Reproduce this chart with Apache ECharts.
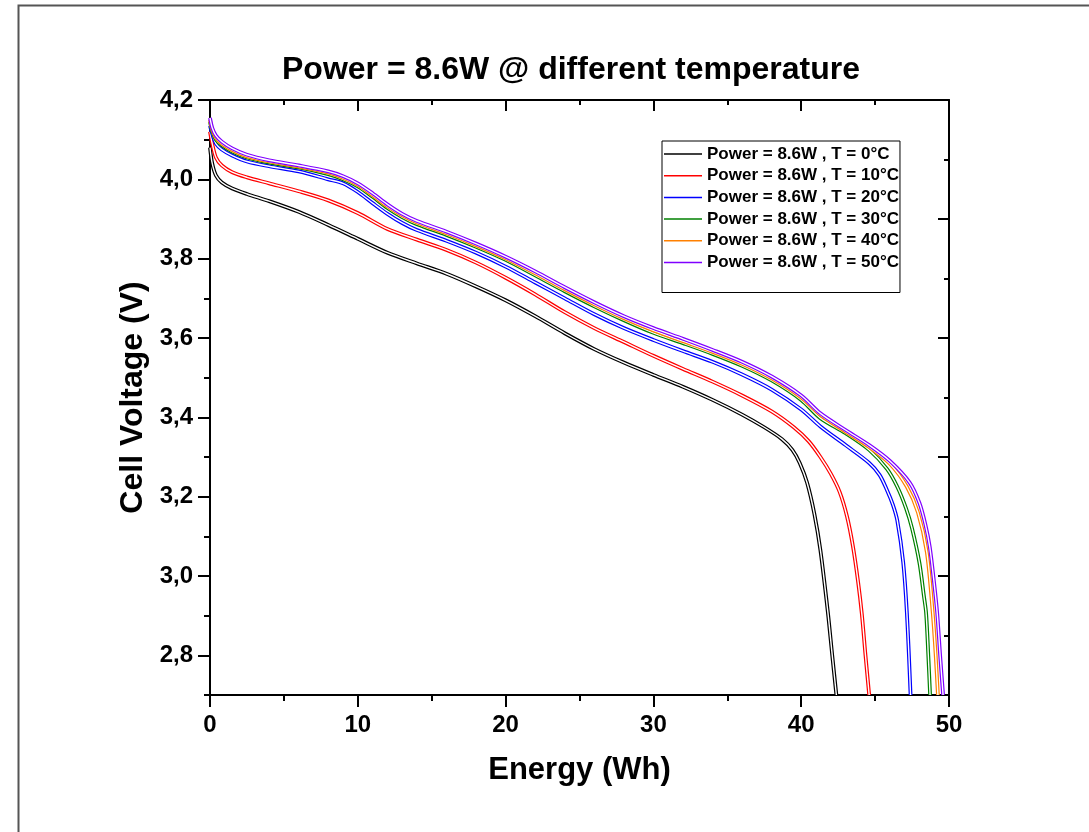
<!DOCTYPE html>
<html>
<head>
<meta charset="utf-8">
<script src="https://cdn.jsdelivr.net/npm/echarts@6/dist/echarts.min.js"></script>
<style>html,body{margin:0;padding:0;background:#fff}#c{width:1089px;height:832px}</style>
</head>
<body>
<div id="c"></div>
<script>
const seriesNames = ['Power = 8.6W , T = 0°C','Power = 8.6W , T = 10°C','Power = 8.6W , T = 20°C','Power = 8.6W , T = 30°C','Power = 8.6W , T = 40°C','Power = 8.6W , T = 50°C'];
const seriesColors = ['#000000','#ff0000','#0000ff','#008000','#ff8000','#8000ff'];
const xTicks = [0,10,20,30,40,50];
const yTickLabels = [2.8,3.0,3.2,3.4,3.6,3.8,4.0,4.2];
const yMinorTicks = [2.7,2.9,3.1,3.3,3.5,3.7,3.9,4.1];

const t0 = [[0,4.08],[0.15,4.04],[0.4,4.01],[0.8,3.992],[1.5,3.977],[2.5,3.963],[4,3.945],[6,3.918],[8,3.885],[10,3.85],[12,3.815],[14,3.788],[16,3.762],[18,3.73],[20,3.695],[22,3.655],[24,3.612],[26,3.572],[28,3.538],[30,3.507],[32,3.477],[34,3.444],[36,3.407],[37.5,3.375],[38.7,3.345],[39.4,3.318],[39.9,3.285],[40.4,3.235],[40.9,3.155],[41.3,3.065],[41.8,2.91],[42.1,2.80],[42.38,2.70]];
const t10 = [[0,4.12],[0.15,4.09],[0.4,4.055],[0.8,4.035],[1.5,4.018],[2.5,4.005],[4,3.99],[6,3.97],[8,3.947],[10,3.915],[12,3.875],[14,3.848],[16,3.822],[18,3.79],[20,3.752],[22,3.71],[24,3.665],[26,3.625],[28,3.59],[30,3.555],[32,3.522],[34,3.49],[36,3.455],[38,3.415],[39.5,3.375],[40.5,3.34],[41.3,3.30],[42,3.258],[42.6,3.212],[43.1,3.15],[43.5,3.075],[43.85,2.985],[44.1,2.905],[44.35,2.80],[44.6,2.70]];
const t20 = [[0,4.135],[0.15,4.115],[0.4,4.09],[0.8,4.075],[1.5,4.06],[2.5,4.045],[4,4.033],[6,4.02],[8,4.0],[9,3.99],[10,3.968],[11,3.94],[12,3.913],[13,3.89],[14,3.872],[16,3.845],[18,3.815],[20,3.78],[22,3.74],[24,3.70],[26,3.66],[28,3.625],[30,3.595],[32,3.567],[34,3.54],[36,3.508],[38,3.47],[40,3.42],[41.3,3.377],[43,3.33],[44.6,3.285],[45.3,3.255],[45.8,3.217],[46.2,3.18],[46.5,3.14],[46.9,3.035],[47.15,2.907],[47.4,2.70]];
const t30 = [[0,4.145],[0.15,4.122],[0.4,4.1],[0.8,4.086],[1.5,4.07],[2.5,4.055],[4,4.042],[6,4.03],[8,4.013],[9,4.0],[10,3.982],[11,3.956],[12,3.928],[13,3.905],[14,3.887],[16,3.86],[18,3.83],[20,3.797],[22,3.758],[24,3.718],[26,3.68],[28,3.645],[30,3.613],[32,3.587],[34,3.56],[36,3.53],[38,3.493],[40,3.444],[41.3,3.398],[43,3.36],[44.6,3.318],[45.8,3.27],[46.5,3.225],[47.1,3.17],[47.5,3.12],[48.0,3.033],[48.3,2.95],[48.45,2.907],[48.6,2.80],[48.72,2.70]];
const t40 = [[0,4.15],[0.15,4.126],[0.4,4.105],[0.8,4.09],[1.5,4.074],[2.5,4.058],[4,4.045],[6,4.032],[8,4.017],[9,4.004],[10,3.986],[11,3.96],[12,3.932],[13,3.909],[14,3.891],[16,3.864],[18,3.834],[20,3.801],[22,3.763],[24,3.723],[26,3.685],[28,3.65],[30,3.619],[32,3.592],[34,3.565],[36,3.535],[38,3.498],[40,3.45],[41.3,3.406],[43,3.364],[44.6,3.325],[46,3.283],[47.15,3.225],[47.9,3.16],[48.5,3.06],[48.9,2.907],[49.1,2.80],[49.25,2.70]];
const t50 = [[0,4.155],[0.15,4.13],[0.4,4.11],[0.8,4.095],[1.5,4.078],[2.5,4.062],[4,4.048],[6,4.035],[8,4.02],[9,4.008],[10,3.99],[11,3.965],[12,3.937],[13,3.913],[14,3.895],[16,3.868],[18,3.838],[20,3.805],[22,3.768],[24,3.728],[26,3.69],[28,3.655],[30,3.625],[32,3.598],[34,3.57],[36,3.54],[38,3.503],[40,3.455],[41.3,3.41],[43,3.368],[44.6,3.33],[46,3.29],[47.35,3.235],[48,3.184],[48.4,3.13],[48.7,3.073],[49.0,2.98],[49.2,2.907],[49.4,2.80],[49.6,2.70]];
const seriesData = [t0,t10,t20,t30,t40,t50];

const FONT = 'Liberation Sans, Arial, sans-serif';
const series = [];
seriesData.forEach((d, i) => {
  series.push({
    name: seriesNames[i], type: 'line', data: d, showSymbol: false, symbol: 'none',
    smooth: 0.3, clip: true,
    color: seriesColors[i],
    lineStyle: { color: seriesColors[i], width: 3.8 },
    xAxisIndex: 0, yAxisIndex: 0, z: 3
  });
  series.push({
    name: '_w' + i, type: 'line', data: d, showSymbol: false, symbol: 'none',
    smooth: 0.3, clip: true,
    lineStyle: { color: '#ffffff', width: 1.4 },
    xAxisIndex: 0, yAxisIndex: 0, z: 3, silent: true
  });
});

const axLine = { show: true, onZero: false, lineStyle: { color: '#000', width: 2 } };
const chart = echarts.init(document.getElementById('c'), null, { renderer: 'canvas' });
chart.setOption({
  backgroundColor: '#fff',
  animation: false,
  title: {
    text: 'Power = 8.6W @ different temperature',
    left: 566, top: 49, textAlign: 'center',
    textStyle: { fontFamily: FONT, fontWeight: 'bold', fontSize: 32, color: '#000' }
  },
  legend: {
    data: seriesNames,
    orient: 'vertical', left: 662, top: 141,
    icon: 'rect', itemWidth: 38, itemHeight: 1.5, itemGap: 3.7,
    borderColor: '#000', borderWidth: 1, borderRadius: 0,
    backgroundColor: '#fff',
    padding: [4, 1, 21, 2],
    textStyle: { fontFamily: FONT, fontWeight: 'bold', fontSize: 17, color: '#000', lineHeight: 18 }
  },
  graphic: [{
    type: 'rect', left: 16, top: 3, shape: { width: 1090, height: 850 },
    style: { fill: 'none', stroke: '#555', lineWidth: 2 }, silent: true, z: 100
  }],
  grid: { left: 210, right: 140, top: 100, bottom: 137 },
  xAxis: [{
    type: 'value', position: 'bottom', min: 0, max: 50, interval: 10,
    name: 'Energy (Wh)', nameLocation: 'middle', nameGap: 60,
    nameTextStyle: { fontFamily: FONT, fontWeight: 'bold', fontSize: 31, color: '#000' },
    axisLine: axLine,
    axisTick: { show: true, inside: false, length: 12, lineStyle: { color: '#000', width: 2 } },
    minorTick: { show: true, splitNumber: 2, length: 6, lineStyle: { color: '#000', width: 2 } },
    axisLabel: { fontFamily: FONT, fontWeight: 'bold', fontSize: 24, color: '#000', margin: 18,
      customValues: xTicks, formatter: v => String(v) },
    splitLine: { show: false }
  }, {
    type: 'value', position: 'top', min: 0, max: 50, interval: 10,
    axisLine: axLine,
    axisTick: { show: true, inside: true, length: 11, lineStyle: { color: '#000', width: 2 } },
    minorTick: { show: true, splitNumber: 2, length: 5, lineStyle: { color: '#000', width: 2 } },
    axisLabel: { show: false }, splitLine: { show: false }
  }],
  yAxis: [{
    type: 'value', position: 'left', min: 2.7, max: 4.2, interval: 0.1,
    name: 'Cell Voltage (V)', nameLocation: 'middle', nameGap: 60,
    nameTextStyle: { fontFamily: FONT, fontWeight: 'bold', fontSize: 32, color: '#000' },
    axisLine: axLine,
    axisTick: { show: true, inside: false, length: 12, customValues: yTickLabels, lineStyle: { color: '#000', width: 2 } },
    axisLabel: { fontFamily: FONT, fontWeight: 'bold', fontSize: 24, color: '#000', margin: 17,
      customValues: yTickLabels, formatter: v => v.toFixed(1).replace('.', ',') },
    splitLine: { show: false }
  }, {
    type: 'value', position: 'left', min: 2.7, max: 4.2, interval: 0.1,
    axisLine: { show: false },
    axisTick: { show: true, inside: false, length: 6, customValues: yMinorTicks, lineStyle: { color: '#000', width: 2 } },
    axisLabel: { show: false }, splitLine: { show: false }
  }, {
    type: 'value', position: 'right', min: 2.7, max: 4.2, interval: 0.3,
    axisLine: axLine,
    axisTick: { show: true, inside: true, length: 11, lineStyle: { color: '#000', width: 2 } },
    minorTick: { show: true, splitNumber: 2, length: 5, lineStyle: { color: '#000', width: 2 } },
    axisLabel: { show: false }, splitLine: { show: false }
  }],
  series: series
});
</script>
</body>
</html>
